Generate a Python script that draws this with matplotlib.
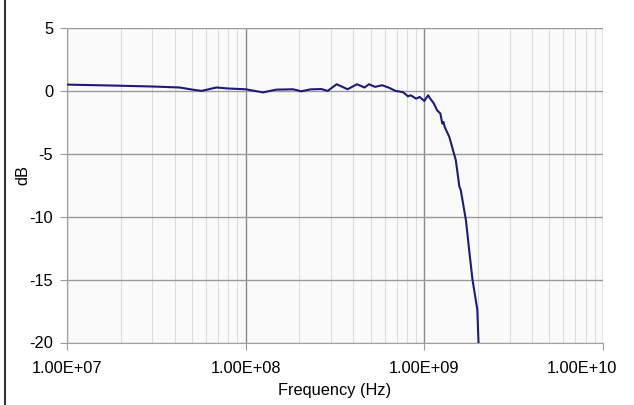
import numpy as np
import matplotlib.pyplot as plt
from matplotlib.ticker import LogLocator, NullFormatter
from matplotlib.transforms import ScaledTranslation

# Data
freq_hz = [1.0e7, 1.74e7, 3.0e7, 4.27e7, 5.05e7, 5.66e7, 6.86e7, 8.0e7, 1.0e8,
           1.25e8, 1.48e8, 1.84e8, 2.05e8, 2.3e8, 2.65e8, 2.88e8,
           3.23e8, 3.72e8, 4.2e8, 4.63e8, 4.9e8, 5.3e8, 5.8e8, 6.3e8, 6.9e8, 7.6e8,
           8.1e8, 8.4e8, 9.0e8, 9.4e8, 1.0e9, 1.05e9, 1.08e9, 1.13e9, 1.18e9, 1.23e9,
           1.26e9, 1.28e9, 1.30e9, 1.38e9, 1.43e9, 1.50e9, 1.55e9, 1.57e9, 1.60e9,
           1.71e9, 1.79e9, 1.86e9, 1.98e9, 2.01e9]
gain_db = [0.50, 0.43, 0.35, 0.27, 0.10, 0.0, 0.27, 0.19, 0.13,
           -0.12, 0.10, 0.13, -0.03, 0.12, 0.15, 0.0,
           0.53, 0.13, 0.53, 0.27, 0.53, 0.32, 0.45, 0.27, 0.0, -0.1,
           -0.43, -0.35, -0.62, -0.48, -0.8, -0.35, -0.62, -1.0, -1.55, -1.8,
           -2.6, -2.47, -2.87, -3.66, -4.45, -5.5, -7.0, -7.6, -7.9,
           -10.3, -12.9, -15.0, -17.4, -20.0]

x_ticks = [1e7, 1e8, 1e9, 1e10]
x_labels = ["1.00E+07", "1.00E+08", "1.00E+09", "1.00E+10"]
y_ticks = [-20, -15, -10, -5, 0, 5]

plt.rcParams['font.family'] = ["Liberation Sans", "DejaVu Sans"]
plt.rcParams['axes.unicode_minus'] = False

fig = plt.figure(figsize=(6.34, 4.05), dpi=100)
ax = fig.add_axes([67 / 634, 1 - 342.5 / 405, (603 - 67) / 634, (342.5 - 28) / 405])
ax.set_facecolor('#fafafa')

ax.plot(freq_hz, gain_db, color='#1c1c78', lw=1.5, zorder=3)

ax.set_xscale('log')
ax.set_xlim(1e7, 1e10)
ax.set_ylim(-20, 5)
ax.set_xticks(x_ticks)
ax.set_xticklabels(x_labels)
ax.xaxis.set_minor_locator(LogLocator(base=10, subs=np.arange(2, 10)))
ax.xaxis.set_minor_formatter(NullFormatter())
ax.set_yticks(y_ticks)

ax.grid(axis='x', which='major', color='#8a8a8a', lw=1.0, zorder=1)
ax.grid(axis='x', which='minor', color='#dcdcdc', lw=0.8, zorder=1)
ax.grid(axis='y', which='major', color='#9a9a9a', lw=1.0, zorder=1)

ax.tick_params(axis='both', which='major', length=5, color='#9a9a9a',
               labelsize=11.8, pad=5)
ax.tick_params(axis='x', which='minor', length=0)
ax.tick_params(axis='x', pad=8)

# last x label is pushed left to stay inside the picture, as in the original
last = ax.get_xticklabels()[-1]
last.set_transform(last.get_transform() + ScaledTranslation(-0.21, 0, fig.dpi_scale_trans))

for side in ['top', 'right']:
    ax.spines[side].set_visible(False)
for side in ['left', 'bottom']:
    ax.spines[side].set_color('#a0a0a0')

ax.set_xlabel("Frequency (Hz)", fontsize=11.8, labelpad=5)
ax.set_ylabel("dB", fontsize=11.8)
ax.yaxis.set_label_coords(-0.068, 0.533)

# left border line of the original document
fig.add_artist(plt.Line2D([5 / 634, 5 / 634], [0, 1], color='#333333', lw=1.5))

fig.savefig("out.png", dpi=100)
